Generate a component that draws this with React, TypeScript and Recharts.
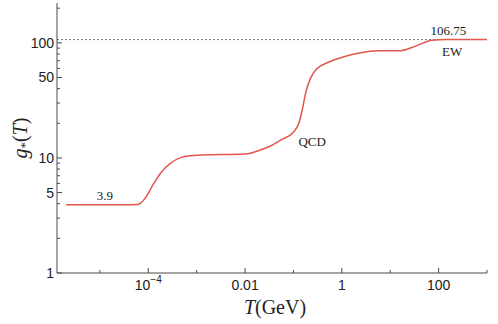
import { ComposedChart, Line, XAxis, YAxis, ReferenceLine, ReferenceDot, Label } from 'recharts';

// temperature T (GeV) and effective degrees of freedom g*(T)
const tValues = [
  2.02e-6, 3.16e-5, 5.93e-5, 6.93e-5, 8.11e-5, 1.31e-4, 1.79e-4, 2.89e-4, 4.65e-4, 7.48e-4,
  1.66e-3, 8.07e-3, 0.013, 0.0209, 0.0337, 0.0541, 0.102, 0.129, 0.152, 0.178,
  0.225, 0.31, 0.499, 1.1, 2.43, 5.38, 16.3, 33.3, 73.8, 139, 1000,
];
const gValues = [
  3.91, 3.91, 3.93, 4.05, 4.32, 6.03, 7.37, 9.0, 10.06, 10.47,
  10.68, 10.76, 10.98, 11.73, 12.7, 14.3, 16.9, 20.0, 26.1, 36.4,
  49.1, 60.0, 67.1, 75.6, 81.9, 85.3, 85.6, 93.6, 105.5, 106.75, 106.75,
];

const xMajorTicks = [1e-4, 1e-2, 1, 100];
const xMinorTicks = [1e-5, 1e-3, 0.1, 10, 1000];
const xTickLabels: Record<string, [string, string]> = {
  '0.0001': ['10', '−4'],
  '0.01': ['0.01', ''],
  '1': ['1', ''],
  '100': ['100', ''],
};
const yMajorTicks = [1, 5, 10, 50, 100];
const yMinorTicks = [2, 3, 4, 6, 7, 8, 9, 20, 30, 40, 60, 70, 80, 90, 200];

const gUltraRel = 106.75;
const notes = [
  { t: 1.27e-5, g: 4.68, text: '3.9' },
  { t: 0.244, g: 13.8, text: 'QCD' },
  { t: 160, g: 128.8, text: '106.75' },
  { t: 191, g: 83.5, text: 'EW' },
];

const data = tValues.map((t, i) => ({ t, g: gValues[i] }));
const xTicks = [...xMajorTicks, ...xMinorTicks].sort((a, b) => a - b);
const yTicks = [...yMajorTicks, ...yMinorTicks].sort((a, b) => a - b);

const axisColor = '#4a4a4a';
const curveColor = '#e2574c';
const sans = '"Liberation Sans", Arial, sans-serif';
const serif = '"Liberation Serif", "Times New Roman", serif';

const XTick = ({ x, y, payload, side }: any) => {
  const major = xMajorTicks.includes(payload.value);
  const len = major ? 5 : 3;
  const dir = side === 'top' ? 1 : -1;
  const label = xTickLabels[String(payload.value)];
  return (
    <g>
      <line x1={x} y1={y} x2={x} y2={y + dir * len} stroke={axisColor} />
      {side === 'bottom' && major && label && (
        <text x={x} y={y + 17} textAnchor="middle" fontFamily={sans} fontSize={14} fill="#222">
          <tspan>{label[0]}</tspan>
          {label[1] && (
            <tspan dy={-7} fontSize={10}>
              {label[1]}
            </tspan>
          )}
        </text>
      )}
    </g>
  );
};

const YTick = ({ x, y, payload, side }: any) => {
  const major = yMajorTicks.includes(payload.value);
  const len = major ? 5 : 3;
  const dir = side === 'right' ? -1 : 1;
  return (
    <g>
      <line x1={x} y1={y} x2={x + dir * len} y2={y} stroke={axisColor} />
      {side === 'left' && major && (
        <text x={x - 3} y={y} textAnchor="end" dominantBaseline="central" fontFamily={sans} fontSize={14} fill="#222">
          {payload.value}
        </text>
      )}
    </g>
  );
};

const Note = ({ viewBox, value }: any) => (
  <text
    x={viewBox.cx ?? viewBox.x}
    y={viewBox.cy ?? viewBox.y}
    textAnchor="middle"
    dominantBaseline="central"
    fontFamily={serif}
    fontSize={13}
    fill="#222"
  >
    {value}
  </text>
);

export default function App() {
  return (
    <div style={{ position: 'absolute', left: 0, top: 0 }}>
      <ComposedChart width={498} height={324} data={data} margin={{ top: 3, right: 11, bottom: 0, left: 0 }}>
        <XAxis
          xAxisId="b"
          dataKey="t"
          type="number"
          scale="log"
          domain={[1.3e-6, 1000]}
          allowDataOverflow
          ticks={xTicks}
          interval={0}
          height={51}
          tickSize={0}
          tickMargin={0}
          tickLine={false}
          axisLine={{ stroke: axisColor }}
          tick={(p: any) => <XTick {...p} side="bottom" />}
        >
          <Label
            content={({ viewBox }: any) => (
              <text
                x={viewBox.x + viewBox.width / 2 + 3}
                y={viewBox.y + 41}
                textAnchor="middle"
                fontFamily={serif}
                fontSize={20}
                fill="#222"
              >
                <tspan fontStyle="italic">T</tspan>
                <tspan>(GeV)</tspan>
              </text>
            )}
          />
        </XAxis>
        <XAxis
          xAxisId="t"
          orientation="top"
          dataKey="t"
          type="number"
          scale="log"
          domain={[1.3e-6, 1000]}
          allowDataOverflow
          ticks={xTicks}
          interval={0}
          height={0}
          tickSize={0}
          tickMargin={0}
          tickLine={false}
          axisLine={{ stroke: axisColor }}
          tick={(p: any) => <XTick {...p} side="top" />}
        />
        <YAxis
          yAxisId="l"
          type="number"
          scale="log"
          domain={[1, 222]}
          allowDataOverflow
          ticks={yTicks}
          interval={0}
          width={57}
          tickSize={0}
          tickMargin={0}
          tickLine={false}
          axisLine={{ stroke: axisColor }}
          tick={(p: any) => <YTick {...p} side="left" />}
        >
          <Label
            content={({ viewBox }: any) => {
              const cx = viewBox.x + 20;
              const cy = viewBox.y + viewBox.height / 2;
              return (
                <text
                  x={cx}
                  y={cy}
                  transform={`rotate(-90 ${cx} ${cy})`}
                  textAnchor="middle"
                  dominantBaseline="central"
                  fontFamily={serif}
                  fontSize={20}
                  fill="#222"
                >
                  <tspan fontStyle="italic">g</tspan>
                  <tspan fontSize={13} dy={4}>
                    *
                  </tspan>
                  <tspan dy={-4}>(</tspan>
                  <tspan fontStyle="italic">T</tspan>
                  <tspan>)</tspan>
                </text>
              );
            }}
          />
        </YAxis>
        <YAxis
          yAxisId="r"
          orientation="right"
          type="number"
          scale="log"
          domain={[1, 222]}
          allowDataOverflow
          ticks={yTicks}
          interval={0}
          width={0}
          tickSize={0}
          tickMargin={0}
          tickLine={false}
          axisLine={{ stroke: axisColor }}
          tick={(p: any) => <YTick {...p} side="right" />}
        />
        <ReferenceLine
          xAxisId="b"
          yAxisId="l"
          y={gUltraRel}
          stroke="#777"
          strokeDasharray="2 2"
          strokeWidth={1}
        />
        <Line
          xAxisId="b"
          yAxisId="l"
          dataKey="g"
          type="monotoneX"
          stroke={curveColor}
          strokeWidth={1.5}
          dot={false}
          isAnimationActive={false}
        />
        {notes.map((n) => (
          <ReferenceDot
            key={n.text}
            xAxisId="b"
            yAxisId="l"
            x={n.t}
            y={n.g}
            r={0}
            fill="none"
            stroke="none"
            label={<Note value={n.text} />}
          />
        ))}
      </ComposedChart>
    </div>
  );
}
